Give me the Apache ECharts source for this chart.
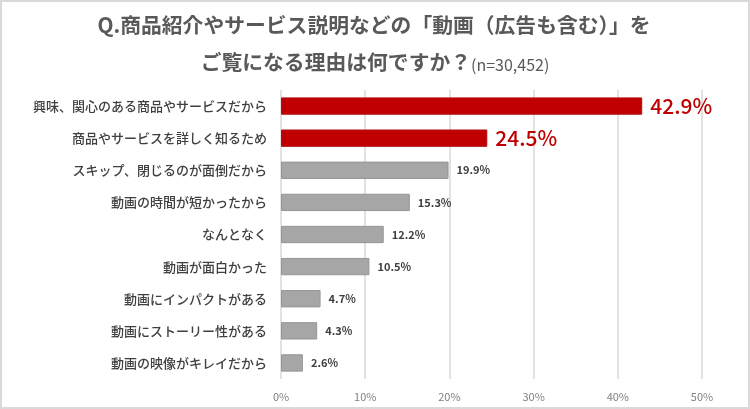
<!DOCTYPE html>
<html><head><meta charset="utf-8">
<script src="https://cdn.jsdelivr.net/npm/echarts@6/dist/echarts.min.js"></script>
<style>html,body{margin:0;padding:0;background:#fff}#c{width:750px;height:409px}</style>
</head><body><div id="c"></div>
<script>
const categories = ["興味、関心のある商品やサービスだから","商品やサービスを詳しく知るため","スキップ、閉じるのが面倒だから","動画の時間が短かったから","なんとなく","動画が面白かった","動画にインパクトがある","動画にストーリー性がある","動画の映像がキレイだから"];
const values = [42.9,24.5,19.9,15.3,12.2,10.5,4.7,4.3,2.6];
const highlighted = [true,true,false,false,false,false,false,false,false];
const xTicks = [0,10,20,30,40,50];
const titleLine1 = 'Q.商品紹介やサービス説明などの「動画（広告も含む）」を';
const titleLine2 = 'ご覧になる理由は何ですか？';
const sampleNote = '(n=30,452)';

const FONT = '"Noto Sans CJK JP","Noto Sans",sans-serif';
const chart = echarts.init(document.getElementById('c'));
const data = values.map((v,i)=>({
  value: v,
  itemStyle: highlighted[i] ? {color:'#c00000', borderColor:'#b01010', borderWidth:1} : {color:'#a6a6a6', borderColor:'#969696', borderWidth:1},
  label: highlighted[i] ? {fontSize:21, color:'#c00000', fontWeight:500, distance:8} : {fontSize:11, color:'#404040', fontWeight:'bold', distance:8}
}));
chart.setOption({
  animation:false,
  textStyle:{fontFamily:FONT},
  graphic:[
    {type:'rect', z:100, silent:true, shape:{x:1,y:1,width:748,height:407}, style:{fill:null, stroke:'#d9d9d9', lineWidth:2}},
    {type:'text', x:374, y:25, style:{text:titleLine1, font:'bold 20.8px '+FONT, fill:'#595959', textAlign:'center', textVerticalAlign:'middle'}},
    {type:'text', x:375, y:62, style:{text:'{a|'+titleLine2+'}{b|'+sampleNote+'}', fill:'#595959', textAlign:'center', textVerticalAlign:'middle',
      rich:{a:{fontFamily:FONT, fontSize:20.8, fontWeight:'bold', fill:'#595959'},
            b:{fontFamily:FONT, fontSize:16, fontWeight:'normal', fill:'#595959', padding:[5,0,0,0]}}}}
  ],
  grid:{left:281, right:48, top:90, bottom:30, containLabel:false},
  xAxis:{type:'value', min:xTicks[0], max:xTicks[xTicks.length-1], interval:10,
    axisLabel:{formatter:'{value}%', color:'#808080', fontSize:11, margin:12},
    axisLine:{show:false}, axisTick:{show:false},
    splitLine:{lineStyle:{color:'#d9d9d9', width:1.5}}},
  yAxis:{type:'category', data:categories, inverse:true,
    axisLine:{show:false}, axisTick:{show:false},
    axisLabel:{color:'#404040', fontSize:13, margin:14, fontWeight:500}},
  series:[{type:'bar', data:data, barCategoryGap:'46%',
    label:{show:true, position:'right', formatter:p=>p.value.toFixed(1)+'%'}}]
});
</script></body></html>
